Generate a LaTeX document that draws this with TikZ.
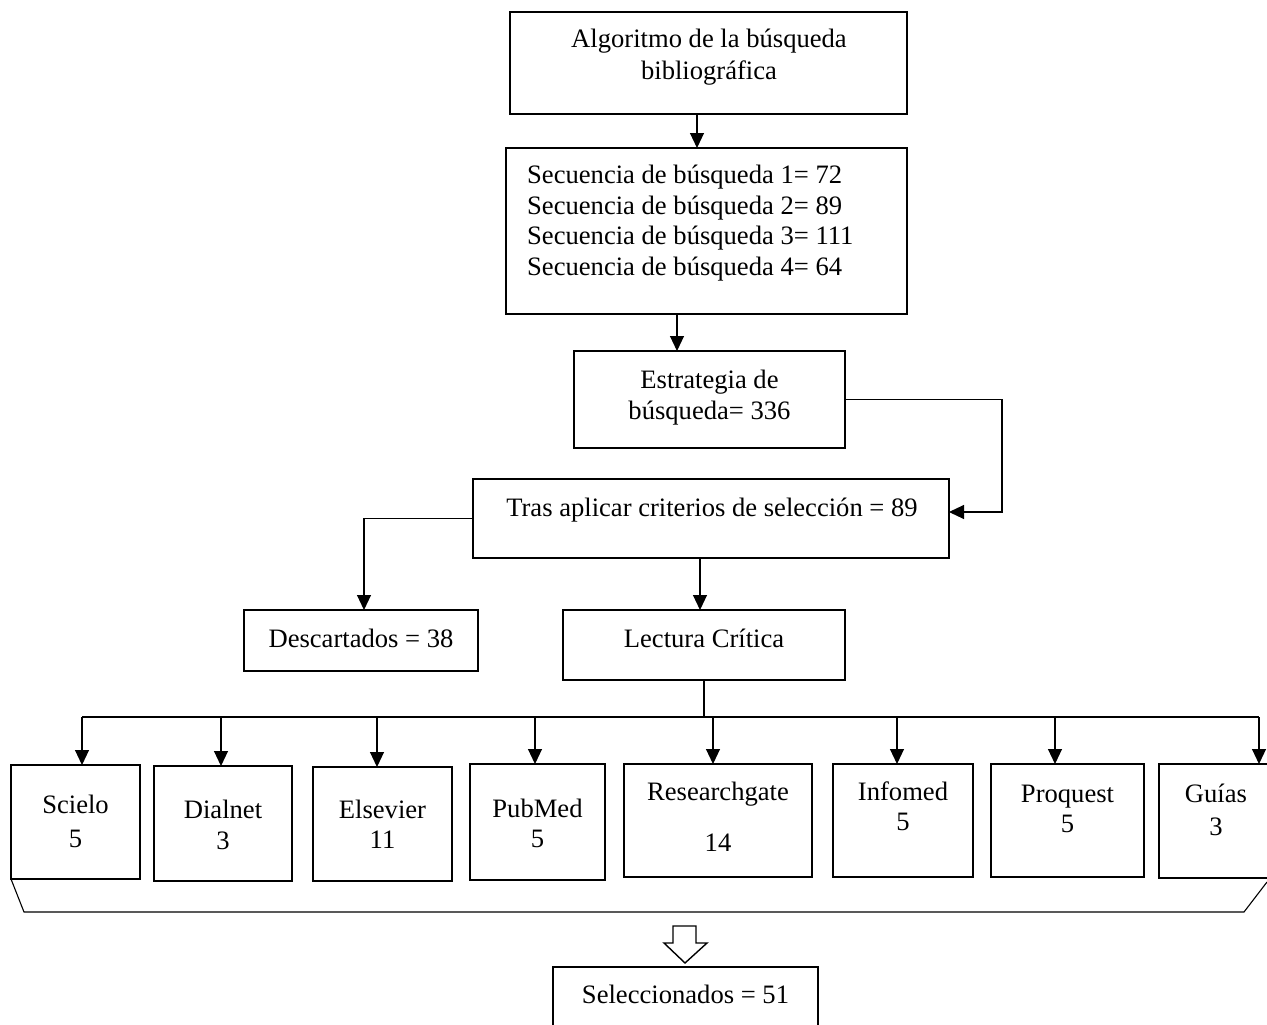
\documentclass[tikz,border=0pt]{standalone}
\usepackage{fontspec}
\setmainfont{Liberation Serif}
\usetikzlibrary{arrows.meta}
\newcommand\mybox[5]{\node[box,minimum width={(#3)-(#1)},minimum height={(#4)-(#2)}] (#5) at ({((#1)+(#3))/2},{((#2)+(#4))/2}) {};}
\begin{document}
\begin{tikzpicture}[x=1pt,y=-1pt,
  box/.style={draw,rectangle,line width=2.6pt,inner sep=0pt,outer sep=0pt},
  txt/.style={inner sep=0pt,font=\fontsize{26.6}{31}\selectfont},
  arr/.style={line width=1.1pt,-{Triangle[length=15pt,width=14pt]}},
  ln/.style={line width=1.1pt}]
\fill[white] (0,0) rectangle (1267,1025);
\useasboundingbox (0,0) rectangle (1267,1025);
\clip (0,0) rectangle (1267,1025);
% boxes
\mybox{510}{12}{907}{114}{b1}
\mybox{506}{148}{907}{314}{b2}
\mybox{574}{351}{845}{448}{b3}
\mybox{473}{479}{949}{558}{b4}
\mybox{244}{610}{478}{671}{b5}
\mybox{563}{610}{845}{680}{b6}
\mybox{11}{765}{140}{879}{sci}
\mybox{154}{766}{292}{881}{dia}
\mybox{313}{767}{452}{881}{els}
\mybox{470}{764}{605}{880}{pub}
\mybox{624}{764}{812}{877}{res}
\mybox{833}{764}{973}{877}{inf}
\mybox{991}{764}{1144}{877}{pro}
\mybox{1159}{764}{1275}{878}{gui}
\mybox{553}{967}{818}{1030}{sel}
% texts
\node[txt,anchor=base] (t1a) at (709,48) {Algoritmo de la búsqueda};
\node[txt,anchor=base] (t1b) at (709,80) {bibliográfica};
\node[txt,anchor=base west] (t2a) at (527,183) {Secuencia de búsqueda 1= 72};
\node[txt,anchor=base west] (t2b) at (527,214) {Secuencia de búsqueda 2= 89};
\node[txt,anchor=base west] (t2c) at (527,244) {Secuencia de búsqueda 3= 111};
\node[txt,anchor=base west] (t2d) at (527,275) {Secuencia de búsqueda 4= 64};
\node[txt,anchor=base] (t3a) at (709.5,388) {Estrategia de};
\node[txt,anchor=base] (t3b) at (709.5,419) {búsqueda= 336};
\node[txt,anchor=base] (t4) at (712,516) {Tras aplicar criterios de selección = 89};
\node[txt,anchor=base] (t5) at (361,647) {Descartados = 38};
\node[txt,anchor=base] (t6) at (704,647) {Lectura Crítica};
\node[txt,anchor=base] (ts1) at (75.5,813) {Scielo};
\node[txt,anchor=base] (ts2) at (75.5,847) {5};
\node[txt,anchor=base] (td1) at (223,818) {Dialnet};
\node[txt,anchor=base] (td2) at (223,849) {3};
\node[txt,anchor=base] (te1) at (382.5,818) {Elsevier};
\node[txt,anchor=base] (te2) at (382.5,848) {11};
\node[txt,anchor=base] (tp1) at (537.5,817) {PubMed};
\node[txt,anchor=base] (tp2) at (537.5,847) {5};
\node[txt,anchor=base] (tr1) at (718,800) {Researchgate};
\node[txt,anchor=base] (tr2) at (718,851) {14};
\node[txt,anchor=base] (ti1) at (903,800) {Infomed};
\node[txt,anchor=base] (ti2) at (903,830) {5};
\node[txt,anchor=base] (tq1) at (1067.5,802) {Proquest};
\node[txt,anchor=base] (tq2) at (1067.5,832) {5};
\node[txt,anchor=base] (tg1) at (1216,802) {Guías};
\node[txt,anchor=base] (tg2) at (1216,835) {3};
\node[txt,anchor=base] (tsel) at (685.5,1003) {Seleccionados = 51};
% connectors
\path ([xshift=-11.5pt]b1.south) coordinate (c1);
\draw[arr] (c1) -- (c1 |- b2.north);
\path ([xshift=-29.5pt]b2.south) coordinate (c2);
\draw[arr] (c2) -- (c2 |- b3.north);
\path ([yshift=6.5pt]b4.east) coordinate (c3);
\draw[arr] (b3.east) -- ++(157,0) |- (c3);
\path ([xshift=3pt]b5.north) coordinate (c4);
\draw[arr] (b4.west) -| (c4);
\path ([xshift=-11pt]b4.south) coordinate (c5);
\draw[arr] (c5) -- (c5 |- b6.north);
\draw[ln] (b6.south) -- ++(0,37) coordinate (bus);
\path ([xshift=6.5pt]sci.north) coordinate (a1);
\path ([xshift=-2pt]dia.north) coordinate (a2);
\path ([xshift=-5.5pt]els.north) coordinate (a3);
\path ([xshift=-2.5pt]pub.north) coordinate (a4);
\path ([xshift=-5pt]res.north) coordinate (a5);
\path ([xshift=-6pt]inf.north) coordinate (a6);
\path ([xshift=-12.5pt]pro.north) coordinate (a7);
\path ([xshift=42pt]gui.north) coordinate (a8);
\draw[ln] (a1 |- bus) -- (a8 |- bus);
\foreach \a in {a1,a2,a3,a4,a5,a6,a7,a8}
  \draw[arr] (\a |- bus) -- (\a);
% bracket
\draw[ln] (sci.south west) -- (24,912) -- (1244,912) -- (1267,882);
% hollow arrow
\draw[line width=1.4pt,fill=white,line join=miter]
  (673,926) -- (696,926) -- (696,943) -- (707,943) -- (685,963)
  -- (664,943) -- (673,943) -- cycle;
\end{tikzpicture}
\end{document}
